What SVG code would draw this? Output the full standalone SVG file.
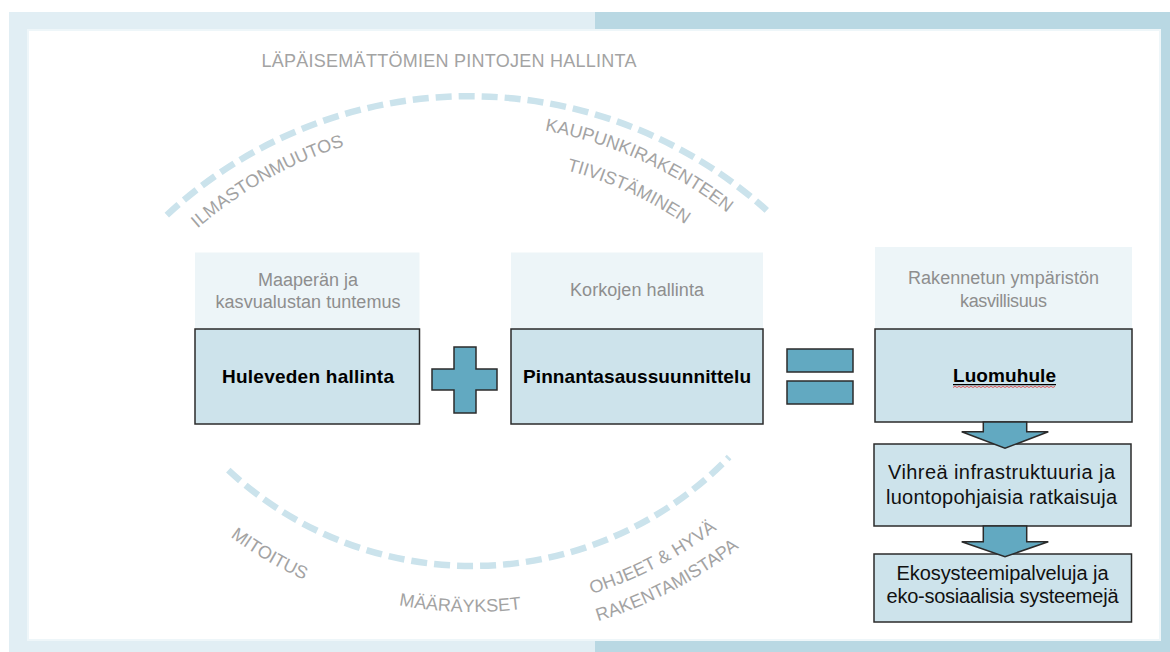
<svg xmlns="http://www.w3.org/2000/svg" width="1170" height="652" viewBox="0 0 1170 652">
<style>
  .arc { fill: none; stroke: #cbe3ec; stroke-width: 6.5; stroke-dasharray: 16 7; }
  .lbl { font-family: "Liberation Sans", Arial, sans-serif; font-size: 18px; fill: #a3a3a3; }
  .hdr { fill: #edf5f8; }
  .hdrtxt { font-family: "Liberation Sans", Arial, sans-serif; font-size: 18px; fill: #8e8e8e; text-anchor: middle; }
  .main { fill: #cde3eb; stroke: #2b2b2b; stroke-width: 1.5; }
  .maintxt { font-family: "Liberation Sans", Arial, sans-serif; font-size: 19px; font-weight: bold; fill: #000; text-anchor: middle; }
  .subtxt { font-family: "Liberation Sans", Arial, sans-serif; font-size: 20px; fill: #111; text-anchor: middle; }
  .sym { fill: #62a9c1; stroke: #2b2b2b; stroke-width: 1.5; }
</style>
<defs>
  <path id="pIlm" d="M82.1,394.4 A414,414 0 0 1 546.3,133.9"/>
  <path id="pKau" d="M356.6,139.3 A417,417 0 0 1 845.2,359.8"/>
  <path id="pTii" d="M367.1,171.6 A383,383 0 0 1 815.1,375.8"/>
  <path id="pMit" d="M87.9,345.5 A408,408 0 0 0 540.7,610.2"/>
  <path id="pMaa" d="M203.3,509.6 A404,404 0 0 0 722.4,525.1"/>
  <path id="pOhj" d="M383.2,602.1 A404,404 0 0 0 844.7,363.9"/>
  <path id="pRak" d="M379.2,629.9 A432,432 0 0 0 871.4,372.6"/>
</defs>

<!-- frame -->
<rect x="9" y="12" width="586" height="640" fill="#e1eef4"/>
<rect x="595" y="12" width="575" height="640" fill="#b9d8e3"/>
<rect x="28" y="30" width="1132" height="610" fill="#ffffff" stroke="#eef6f9" stroke-width="2"/>

<!-- arcs -->
<path class="arc" d="M166.8,215.1 A444.5,444.5 0 0 1 766.8,210.4"/>
<path class="arc" d="M228.3,470.2 A358,358 0 0 0 729.1,457.1"/>

<!-- arc labels -->
<text class="lbl" x="449" y="66.7" text-anchor="middle" textLength="375">LÄPÄISEMÄTTÖMIEN PINTOJEN HALLINTA</text>
<text class="lbl" text-anchor="middle"><textPath href="#pIlm" startOffset="50%">ILMASTONMUUTOS</textPath></text>
<text class="lbl" text-anchor="middle"><textPath href="#pKau" startOffset="50%">KAUPUNKIRAKENTEEN</textPath></text>
<text class="lbl" text-anchor="middle"><textPath href="#pTii" startOffset="50%">TIIVISTÄMINEN</textPath></text>
<text class="lbl" text-anchor="middle"><textPath href="#pMit" startOffset="50%">MITOITUS</textPath></text>
<text class="lbl" text-anchor="middle"><textPath href="#pMaa" startOffset="50%">MÄÄRÄYKSET</textPath></text>
<text class="lbl" text-anchor="middle"><textPath href="#pOhj" startOffset="50%">OHJEET &amp; HYVÄ</textPath></text>
<text class="lbl" text-anchor="middle"><textPath href="#pRak" startOffset="50%">RAKENTAMISTAPA</textPath></text>

<!-- node 1 -->
<g id="node-huleveden">
  <rect class="hdr" x="195" y="252.5" width="224.5" height="76.5"/>
  <text class="hdrtxt" x="308" y="286" textLength="100">Maaperän ja</text>
  <text class="hdrtxt" x="308" y="308" textLength="185">kasvualustan tuntemus</text>
  <rect class="main" x="195" y="329" width="224.5" height="95"/>
  <text class="maintxt" x="308" y="383" textLength="172">Huleveden hallinta</text>
</g>

<!-- plus -->
<g id="plus">
  <path class="sym" d="M454,347 H476 V369 H497 V390 H476 V413 H454 V390 H432 V369 H454 Z"/>
</g>

<!-- node 2 -->
<g id="node-pinnantasaus">
  <rect class="hdr" x="511" y="252.5" width="252" height="76.5"/>
  <text class="hdrtxt" x="637" y="296" textLength="134">Korkojen hallinta</text>
  <rect class="main" x="511" y="329" width="252" height="95"/>
  <text class="maintxt" x="637" y="383" textLength="228">Pinnantasaussuunnittelu</text>
</g>

<!-- equals -->
<g id="equals">
  <rect class="sym" x="787" y="349" width="66" height="23"/>
  <rect class="sym" x="787" y="381" width="66" height="23"/>
</g>

<!-- node 3 -->
<g id="node-luomuhule">
  <rect class="hdr" x="875" y="247" width="257" height="82"/>
  <text class="hdrtxt" x="1003.5" y="284" textLength="191">Rakennetun ympäristön</text>
  <text class="hdrtxt" x="1003.5" y="306.5" textLength="87">kasvillisuus</text>
  <rect class="main" x="875" y="329" width="257" height="93"/>
  <text class="maintxt" x="1004.5" y="381.7" textLength="103">Luomuhule</text>
  <line x1="953" y1="384.6" x2="1056" y2="384.6" stroke="#000" stroke-width="1.3"/>
  <polyline fill="none" stroke="#e0494b" stroke-width="0.9" points="953,387.5 955,386.3 957,387.5 959,386.3 961,387.5 963,386.3 965,387.5 967,386.3 969,387.5 971,386.3 973,387.5 975,386.3 977,387.5 979,386.3 981,387.5 983,386.3 985,387.5 987,386.3 989,387.5 991,386.3 993,387.5 995,386.3 997,387.5 999,386.3 1001,387.5 1003,386.3 1005,387.5 1007,386.3 1009,387.5 1011,386.3 1013,387.5 1015,386.3 1017,387.5 1019,386.3 1021,387.5 1023,386.3 1025,387.5 1027,386.3 1029,387.5 1031,386.3 1033,387.5 1035,386.3 1037,387.5 1039,386.3 1041,387.5 1043,386.3 1045,387.5 1047,386.3 1049,387.5 1051,386.3 1053,387.5 1055,386.3"/>
</g>

<!-- node 4 -->
<g id="node-vihrea">
  <rect class="main" x="874" y="444" width="257" height="82"/>
  <text class="subtxt" x="1001.5" y="479" textLength="227">Vihreä infrastruktuuria ja</text>
  <text class="subtxt" x="1001.5" y="504" textLength="231">luontopohjaisia ratkaisuja</text>
</g>

<!-- node 5 -->
<g id="node-eko">
  <rect class="main" x="874" y="554" width="257.5" height="68"/>
  <text class="subtxt" x="1002.5" y="580" textLength="212">Ekosysteemipalveluja ja</text>
  <text class="subtxt" x="1002.5" y="603.3" textLength="232">eko-sosiaalisia systeemejä</text>
</g>

<!-- connectors -->
<g id="connectors">
  <path class="sym" d="M983.3,422 H1026.7 V431.7 H1048.3 L1005,448.3 L961.7,431.7 H983.3 Z"/>
  <path class="sym" d="M983.3,526 H1026.7 V541.7 H1048.3 L1005,556.7 L961.7,541.7 H983.3 Z"/>
</g>
</svg>
